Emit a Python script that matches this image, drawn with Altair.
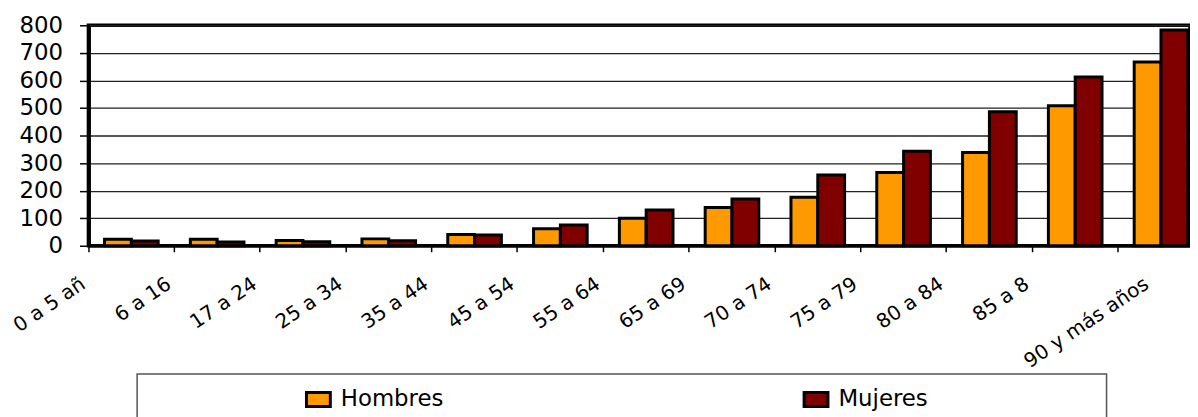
import altair as alt
import pandas as pd

categorias = ["0 a 5 añ", "6 a 16", "17 a 24", "25 a 34", "35 a 44", "45 a 54", "55 a 64",
              "65 a 69", "70 a 74", "75 a 79", "80 a 84", "85 a 8", "90 y más años"]
hombres = [24, 24, 19, 25, 41, 62, 100, 139, 176, 266, 338, 508, 667]
mujeres = [17, 14, 15, 18, 39, 75, 130, 170, 257, 343, 486, 612, 783]
series = ["Hombres", "Mujeres"]
colores = ["#FF9900", "#800000"]
y_ticks = list(range(0, 801, 100))

rows = []
for c, h, m in zip(categorias, hombres, mujeres):
    rows.append({"grupo": c, "serie": "Hombres", "valor": h})
    rows.append({"grupo": c, "serie": "Mujeres", "valor": m})
df = pd.DataFrame(rows)

FONT = "DejaVu Sans"
W_VIEW = 1109
W_RANGE = 1123
H = 222

bars = alt.Chart(df).mark_bar(stroke="black", strokeWidth=3).encode(
    x=alt.X(
        "grupo:N", sort=categorias,
        scale=alt.Scale(paddingInner=0, paddingOuter=0, range=[0, W_RANGE]),
        axis=alt.Axis(
            title=None, bandPosition=0, labelAngle=326, labelAlign="right",
            labelBaseline="top", labelFont=FONT, labelFontSize=20, labelColor="black",
            labelPadding=22,
            labelOffset={"condition": {"test": "datum.value == '90 y más años'", "value": -20},
                         "value": -54},
            labelOverlap=False, labelBound=False,
            tickSize=6, tickColor="black", tickWidth=1.5,
            domainColor="black", domainWidth=2.5, grid=False,
        ),
    ),
    xOffset=alt.XOffset("serie:N", sort=series,
                        scale=alt.Scale(paddingInner=0, paddingOuter=0.6)),
    y=alt.Y(
        "valor:Q", scale=alt.Scale(domain=[0, 800], nice=False),
        axis=alt.Axis(
            title=None, values=y_ticks, labelFont=FONT, labelFontSize=23,
            labelColor="black", labelPadding=17, tickSize=9, tickColor="black",
            tickWidth=1.5, domainColor="black", domainWidth=4,
            grid=True, gridColor="#222222", gridWidth=1.3,
        ),
    ),
    color=alt.Color(
        "serie:N", sort=series,
        scale=alt.Scale(domain=series, range=colores),
        legend=alt.Legend(
            title=None, orient="none", legendX=218, legendY=363,
            direction="horizontal", columns=2, columnPadding=356,
            symbolType="M-1,-0.58H1V0.58H-1Z", symbolSize=576,
            symbolStrokeColor="black", symbolStrokeWidth=3,
            labelFont=FONT, labelFontSize=23, labelColor="black",
            labelOffset=9, padding=0,
        ),
    ),
)

box = alt.Chart(pd.DataFrame({"k": [0]})).mark_rect(
    fill="white", fillOpacity=0, stroke="#555555", strokeWidth=1.5
).encode(
    x=alt.value(49), x2=alt.value(1025), y=alt.value(351), y2=alt.value(440)
)

chart = alt.layer(bars, box).properties(
    width=W_VIEW, height=H, autosize="none",
    padding={"left": 81, "top": 16, "right": 0, "bottom": 171},
).configure_view(stroke="black", strokeWidth=3.5)

chart.save("out.html", embed_options={"renderer": "svg", "actions": False})
